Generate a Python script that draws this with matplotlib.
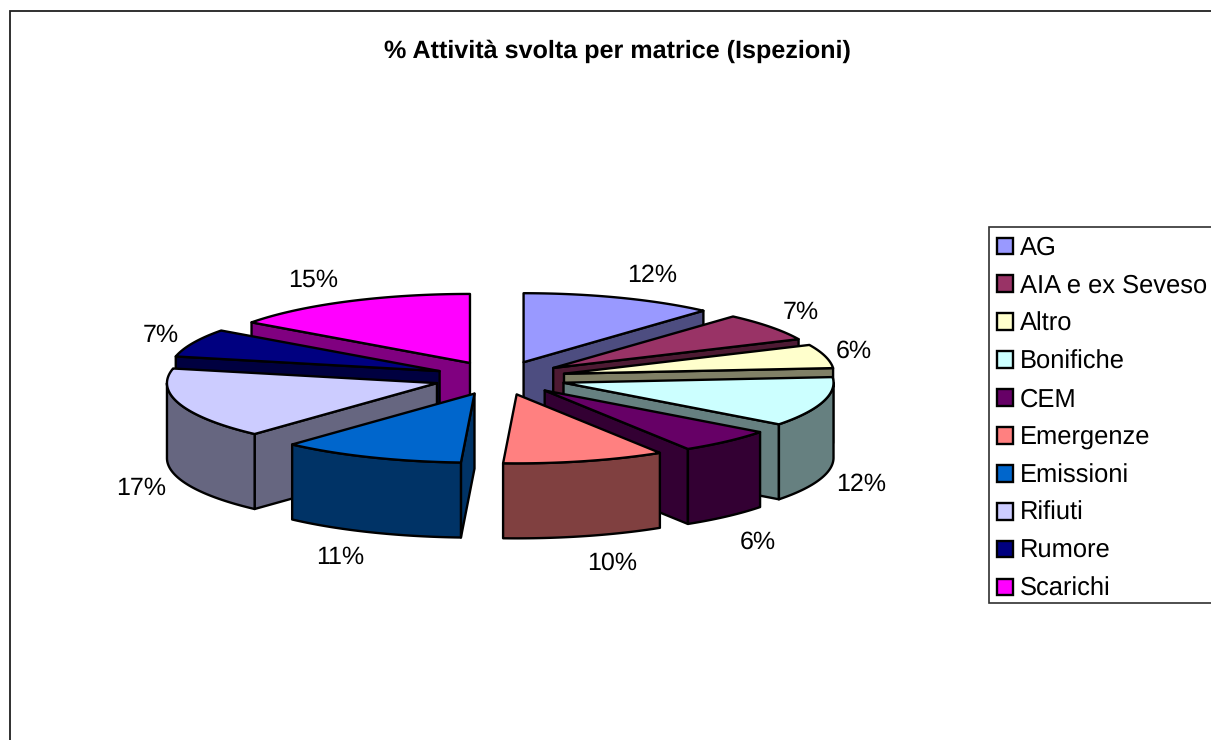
import numpy as np
import matplotlib as mpl
mpl.use('Agg')
import matplotlib.pyplot as plt
from matplotlib.patches import Polygon, Patch, Rectangle
from matplotlib.colors import to_rgb

plt.rcParams['font.family'] = ['Liberation Sans', 'DejaVu Sans']
plt.rcParams['text.hinting'] = 'none'

names = ['AG', 'AIA e ex Seveso', 'Altro', 'Bonifiche', 'CEM', 'Emergenze',
         'Emissioni', 'Rifiuti', 'Rumore', 'Scarichi']
values = [11.6, 6.55, 5.55, 11.6, 5.8, 9.7, 11.0, 16.6, 6.6, 15.0]
colors = ['#9999FF', '#993366', '#FFFFCC', '#CCFFFF', '#660066',
          '#FF8080', '#0066CC', '#CCCCFF', '#000080', '#FF00FF']
title = '% Attività svolta per matrice (Ispezioni)'

# pie geometry, in pixels of the picture
cx, cy = 500, 378
rx, ry = 270, 69
explode = 0.245
depth = 75
# small moves of the percent labels
nudge_x = [1, -1, -2, 7, 0, -4, 1, -8, -1, -3]
nudge_y = [0, 0, 1, 1, 8, 4, 3, 2, 2, 0]

fig = plt.figure(figsize=(12.11, 7.40), dpi=100)
ax = fig.add_axes([0, 0, 1, 1])
ax.set_xlim(0, 1211)
ax.set_ylim(740, 0)
ax.axis('off')

# chart frame, runs off the right and bottom of the picture
ax.add_patch(Rectangle((10, 11), 1300, 800, fc='white', ec='#202020', lw=1.3))
ax.text(617, 51, title, ha='center', va='center', fontsize=18.1, fontweight='bold')

total = sum(values)
edges = np.concatenate([[0], np.cumsum(values)]) / total * 2 * np.pi


def side(c):
    return tuple(v * 0.5 for v in to_rgb(c))


def face(pts, color, z):
    ax.add_patch(Polygon(pts, closed=True, fc=color, ec='black', lw=1.7,
                         joinstyle='round', zorder=z))


mids = (edges[:-1] + edges[1:]) / 2
apex_x = cx + explode * rx * np.sin(mids)
apex_y = cy - explode * ry * np.cos(mids)

# back slices first
order = np.argsort(apex_y)
for rank, i in enumerate(order):
    t0, t1 = edges[i], edges[i + 1]
    ax0, ay0 = apex_x[i], apex_y[i]
    z = 3 + rank

    def rim(t):
        return ax0 + rx * np.sin(t), ay0 - ry * np.cos(t)

    # straight walls that face the viewer
    for t, show in [(t0, np.sin(t0) < 0), (t1, np.sin(t1) > 0)]:
        if show:
            x, y = rim(t)
            face([(ax0, ay0), (x, y), (x, y + depth), (ax0, ay0 + depth)], side(colors[i]), z)

    # outer wall, only the front half of the ellipse
    a, b = max(t0, np.pi / 2), min(t1, 3 * np.pi / 2)
    if a < b:
        ts = np.linspace(a, b, 60)
        x, y = rim(ts)
        pts = np.r_[np.c_[x, y], np.c_[x[::-1], y[::-1] + depth]]
        face(pts, side(colors[i]), z)

    # top
    ts = np.linspace(t0, t1, 80)
    x, y = rim(ts)
    face(np.r_[[(ax0, ay0)], np.c_[x, y]], colors[i], z)

    # percent label outside the rim
    lx, ly = rim(mids[i])
    if np.cos(mids[i]) < 0:
        ly += depth
    lx += 31 * np.sign(np.sin(mids[i])) + nudge_x[i]
    ly += -24 * np.cos(mids[i]) + nudge_y[i]
    ax.text(lx, ly, '%.0f%%' % round(values[i] / total * 100 + 1e-6), ha='center', va='center',
            fontsize=18, color='black', zorder=30)

# legend box also runs off the right edge
ax.add_patch(Rectangle((989, 227), 300, 376, fc='white', ec='#303030', lw=1.2, zorder=39))
handles = [Patch(fc=c, ec='black', lw=1.7) for c in colors]
leg = ax.legend(handles, names, loc='upper left', bbox_to_anchor=(997, 236),
                bbox_transform=ax.transData, fontsize=18.4, frameon=False,
                handlelength=0.625, handleheight=0.625, handletextpad=0.27,
                labelspacing=0.535, borderpad=0, borderaxespad=0)
leg.set_zorder(40)

fig.savefig('out.png', dpi=100)
